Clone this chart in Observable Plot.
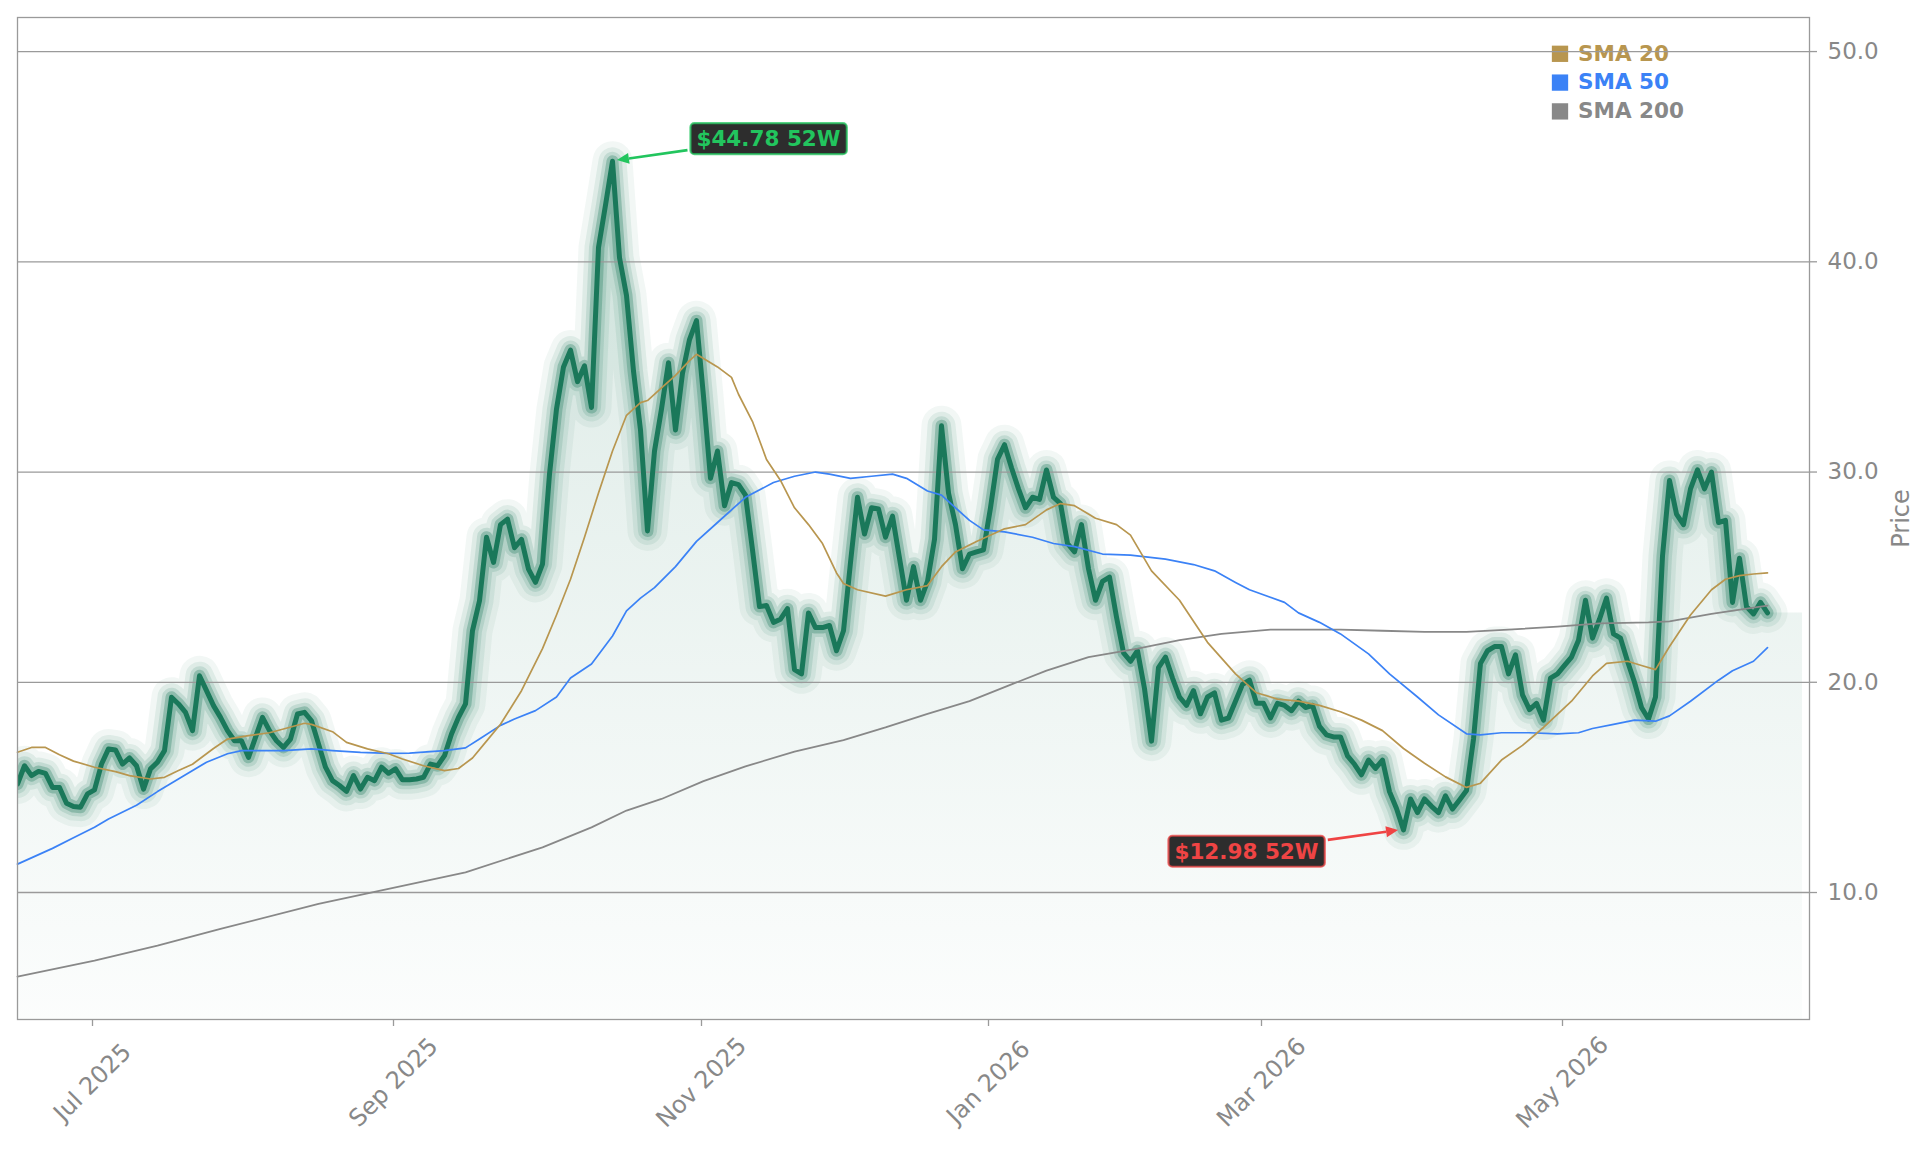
<!DOCTYPE html>
<html>
<head>
<meta charset="utf-8">
<script src="https://cdn.jsdelivr.net/npm/d3@7"></script>
<script src="https://cdn.jsdelivr.net/npm/@observablehq/plot@0.6"></script>
<style>
  html, body { margin: 0; padding: 0; background: #fff; }
  #chart { width: 1929px; height: 1153px; }
</style>
</head>
<body>
<div id="chart"></div>
<script>
// Daily closing prices, one value per trading session (index 0 = first session shown)
const closes = [
  15.16, 16.03, 15.56, 15.76, 15.67, 15.0, 15.0, 14.25, 14.09, 14.06,
  14.69, 14.88, 16.11, 16.83, 16.78, 16.11, 16.4, 16.03, 14.92, 15.88,
  16.2, 16.75, 19.29, 18.97, 18.57, 17.7, 20.31, 19.6, 18.89, 18.33,
  17.7, 17.22, 17.22, 16.43, 17.38, 18.33, 17.7, 17.22, 16.9, 17.3,
  18.49, 18.57, 18.17, 17.07, 15.96, 15.32, 15.09, 14.81, 15.56, 14.92,
  15.48, 15.32, 15.96, 15.67, 15.88, 15.36, 15.36, 15.4, 15.48, 16.11,
  16.03, 16.51, 17.54, 18.33, 18.97, 22.46, 23.88, 26.9, 25.7, 27.5,
  27.76, 26.4, 26.8, 25.38, 24.75, 25.62, 29.9, 33.0, 35.0, 35.8,
  34.3, 35.05, 33.07, 40.68, 42.7, 44.78, 40.2, 38.4, 34.8, 32.0,
  27.2, 31.0, 33.0, 35.2, 32.0, 34.7, 36.3, 37.2, 33.6, 29.7,
  31.0, 28.4, 29.5, 29.4, 28.9, 26.3, 23.6, 23.65, 22.85, 23.0,
  23.5, 20.6, 20.4, 23.3, 22.6, 22.6, 22.7, 21.5, 22.45, 25.7,
  28.8, 27.05, 28.3, 28.24, 26.9, 27.9, 25.9, 23.9, 25.5, 23.9,
  24.8, 26.8, 32.2, 29.0, 27.5, 25.4, 26.1, 26.2, 26.3, 28.3,
  30.6, 31.3, 30.2, 29.2, 28.3, 28.8, 28.7, 30.1, 28.8, 28.5,
  26.6, 26.2, 27.5, 25.4, 23.9, 24.8, 25.0, 23.1, 21.4, 21.0,
  21.5, 19.7, 17.2, 20.7, 21.2, 20.2, 19.3, 18.9, 19.6, 18.5,
  19.3, 19.5, 18.2, 18.3, 19.1, 19.9, 20.1, 19.0, 19.0, 18.3,
  19.0, 18.9, 18.65, 19.1, 18.8, 18.9, 17.9, 17.5, 17.4, 17.4,
  16.5, 16.1, 15.6, 16.3, 15.9, 16.3, 14.8, 14.0, 12.98, 14.45,
  13.8, 14.45, 14.1, 13.8, 14.6, 13.97, 14.4, 14.85, 17.3, 20.9,
  21.5, 21.7, 21.7, 20.4, 21.3, 19.4, 18.7, 19.0, 18.2, 20.2,
  20.4, 20.8, 21.2, 22.0, 23.9, 22.1, 23.0, 24.0, 22.3, 22.1,
  21.0, 20.0, 18.8, 18.25, 19.3, 26.0, 29.6, 28.0, 27.5, 29.2,
  30.1, 29.2, 30.0, 27.6, 27.7, 23.8, 25.9, 23.6, 23.25, 23.8,
  23.3
];

// Moving averages, listed at the sessions given in the matching index arrays
const sma20Idx = [0,2,4,6,8,11,14,16,19,21,23,25,28,30,33,36,38,41,42,45,47,50,53,55,58,61,63,65,67,69,72,75,77,79,81,83,85,87,89,90,92,94,96,97,98,100,102,103,105,107,109,111,113,115,117,118,120,124,127,130,132,134,137,141,144,147,149,151,154,157,159,162,166,170,174,177,180,183,186,189,192,195,198,201,204,207,209,212,215,218,222,225,227,230,232,234,236,239,242,244,246,248,250];
const sma20 = [16.67,16.9,16.9,16.55,16.25,15.96,15.75,15.56,15.4,15.48,15.8,16.1,16.85,17.3,17.46,17.6,17.78,18.05,18.0,17.65,17.14,16.83,16.6,16.35,16.03,15.8,15.9,16.4,17.2,18.0,19.6,21.6,23.2,24.9,26.9,29.0,31.0,32.7,33.3,33.4,34.0,34.6,35.3,35.6,35.4,35.0,34.5,33.7,32.4,30.6,29.6,28.3,27.5,26.6,25.2,24.7,24.4,24.1,24.4,24.6,25.5,26.2,26.7,27.3,27.5,28.2,28.5,28.4,27.8,27.5,27.0,25.3,23.9,21.9,20.4,19.5,19.2,19.1,18.9,18.6,18.2,17.7,16.85,16.15,15.5,15.0,15.2,16.3,17.0,17.85,19.1,20.3,20.9,21.0,20.8,20.6,21.7,23.2,24.4,24.9,25.07,25.15,25.2];

const sma50Idx = [0,5,8,11,13,17,20,24,27,30,32,36,38,42,45,49,53,56,61,64,66,69,71,74,77,79,82,85,87,89,91,94,97,100,104,108,111,114,116,119,122,125,127,130,132,134,136,138,141,145,148,151,155,159,164,168,171,174,176,181,183,186,189,193,196,200,203,207,209,212,216,220,223,225,228,231,234,236,239,243,245,248,250];
const sma50 = [11.35,12.1,12.6,13.1,13.5,14.15,14.8,15.6,16.2,16.6,16.75,16.75,16.75,16.83,16.75,16.67,16.62,16.63,16.75,16.88,17.3,17.95,18.25,18.65,19.3,20.2,20.87,22.2,23.4,24.0,24.5,25.5,26.7,27.6,28.8,29.5,29.8,30.0,29.9,29.7,29.8,29.9,29.7,29.1,28.9,28.3,27.7,27.25,27.15,26.9,26.6,26.45,26.1,26.05,25.86,25.6,25.3,24.75,24.4,23.8,23.3,22.85,22.3,21.35,20.4,19.3,18.45,17.55,17.5,17.6,17.6,17.55,17.6,17.8,18.0,18.2,18.15,18.4,19.1,20.1,20.55,21.0,21.65];

const sma200Idx = [0,11,20,29,43,52,64,75,82,87,92,98,104,111,118,124,130,136,142,147,153,160,166,172,179,189,195,201,207,213,220,226,233,236,242,248,250];
const sma200 = [6.0,6.76,7.47,8.27,9.46,10.1,10.96,12.15,13.1,13.9,14.45,15.3,16.0,16.7,17.25,17.85,18.5,19.1,19.9,20.55,21.2,21.6,22.0,22.3,22.5,22.5,22.45,22.4,22.4,22.5,22.65,22.8,22.85,22.9,23.25,23.55,23.65];

// Month axis: session index of each month's first trading day, and its label
const monthTickIdx = [11, 54, 98, 139, 178, 221];
const monthTickLabels = ["Jul 2025", "Sep 2025", "Nov 2025", "Jan 2026", "Mar 2026", "May 2026"];
const priceTicks = [10, 20, 30, 40, 50];

const seriesNames = ["SMA 20", "SMA 50", "SMA 200"];
const seriesColors = ["#b8964f", "#3b82f6", "#888888"];

// Scale extents and the session where the shaded band stops
const xDomain = [0, 256];
const yDomain = [3.96, 51.62];
const fillEndIdx = 255;

// ---- derived tables ----
const closeData = closes.map((v, i) => ({i, v}));
const fillData = [...closeData, {i: fillEndIdx, v: closes[closes.length - 1]}];
const zip = (idx, vals) => idx.slice(0, Math.min(idx.length, vals.length)).map((i, k) => ({i, v: vals[k]}));
const smaData = [zip(sma20Idx, sma20), zip(sma50Idx, sma50), zip(sma200Idx, sma200)];

const hiIdx = d3.maxIndex(closes), loIdx = d3.minIndex(closes);
const fmt = v => `$${v.toFixed(2)} 52W`;
const annotations = [
  {idx: hiIdx, v: closes[hiIdx], label: fmt(closes[hiIdx]), color: "#22c55e", dx: 156, dy: -22},
  {idx: loIdx, v: closes[loIdx], label: fmt(closes[loIdx]), color: "#ef4444", dx: -157, dy: 22}
];

const green = "#1a785a";
// glow rings around the price line: [stroke width, opacity]
const glowLayers = [[40, 0.06], [28, 0.09], [19, 0.14], [12, 0.3]];
const lineStyle = {x: "i", y: "v", strokeLinejoin: "round", strokeLinecap: "round"};

const plot = Plot.plot({
  width: 1929,
  height: 1153,
  marginLeft: 17,
  marginRight: 120,
  marginTop: 17,
  marginBottom: 134,
  style: {fontFamily: "'DejaVu Sans', sans-serif", background: "#fff", overflow: "visible"},
  x: {domain: xDomain},
  y: {domain: yDomain},
  marks: [
    // shaded band under the price
    Plot.areaY(fillData, {x: "i", y1: () => yDomain[0], y2: "v", fill: "url(#priceFill)", clip: true}),
    // soft glow around the price line
    ...glowLayers.map(([w, a]) => Plot.line(closeData, {...lineStyle, stroke: green, strokeWidth: w, strokeOpacity: a, clip: true})),
    // legend
    ...seriesNames.flatMap((name, k) => [
      Plot.dot([name], {frameAnchor: "top-right", dx: -249.5, dy: 36.3 + 28.8 * k, symbol: "square", r: 9.2, fill: seriesColors[k]}),
      Plot.text([name], {frameAnchor: "top-right", dx: -231.5, dy: 36.3 + 28.8 * k, text: d => d, textAnchor: "start", lineAnchor: "middle",
        fill: seriesColors[k], fontWeight: "bold", fontSize: 21.5})
    ]),
    // horizontal grid
    Plot.ruleY(priceTicks, {stroke: "#9a9a9a", strokeWidth: 1.3}),
    // price line
    Plot.line(closeData, {...lineStyle, stroke: green, strokeWidth: 5, clip: true}),
    // moving averages
    Plot.line(smaData[2], {...lineStyle, stroke: seriesColors[2], strokeWidth: 1.8}),
    Plot.line(smaData[1], {...lineStyle, stroke: seriesColors[1], strokeWidth: 1.7}),
    Plot.line(smaData[0], {...lineStyle, stroke: seriesColors[0], strokeWidth: 1.7}),
    Plot.frame({stroke: "#9a9a9a", strokeWidth: 1.3}),
    Plot.axisY(priceTicks, {anchor: "right", tickFormat: d3.format(".1f"), tickSize: 7, tickPadding: 11,
      fontSize: 23, fill: "#888", stroke: "#9a9a9a", strokeWidth: 1.3, label: null}),
    Plot.axisX(monthTickIdx, {anchor: "bottom", tickFormat: d => monthTickLabels[monthTickIdx.indexOf(d)],
      tickSize: 7, tickRotate: -45, textAnchor: "middle", tickPadding: 56, dx: -2,
      fontSize: 24, fill: "#888", stroke: "#9a9a9a", strokeWidth: 1.3, label: null}),
    // 52-week high / low labels
    ...annotations.map(a => Plot.text([a], {x: "idx", y: "v", text: "label", dx: a.dx, dy: a.dy,
      textAnchor: "middle", lineAnchor: "middle", fill: a.color, fontWeight: "bold", fontSize: 21.5})),
    Plot.text(["Price"], {frameAnchor: "right", dx: 92, text: d => d, rotate: -90, textAnchor: "middle", lineAnchor: "middle",
      fontSize: 24, fill: "#888"})
  ]
});

document.getElementById("chart").append(plot);

// vertical gradient used by the shaded band
const svg = d3.select(plot);
const defs = svg.insert("defs", ":first-child");
const grad = defs.append("linearGradient").attr("id", "priceFill")
  .attr("x1", 0).attr("y1", 0).attr("x2", 0).attr("y2", 1);
grad.append("stop").attr("offset", 0).attr("stop-color", green).attr("stop-opacity", 0.16);
grad.append("stop").attr("offset", 1).attr("stop-color", green).attr("stop-opacity", 0.015);

// boxes behind the high/low labels and arrows pointing at the extremes
const xs = plot.scale("x"), ys = plot.scale("y");
const arrowLayer = svg.append("g");
for (const a of annotations) {
  const node = svg.selectAll("text").filter(function () { return this.textContent === a.label; }).node();
  if (!node) continue;
  const bb = node.getBBox();
  const padX = 6, padY = 3;
  d3.select(node.parentNode).insert("rect", () => node)
    .attr("transform", node.getAttribute("transform"))
    .attr("x", bb.x - padX).attr("y", bb.y - padY)
    .attr("width", bb.width + 2 * padX).attr("height", bb.height + 2 * padY)
    .attr("rx", 4).attr("fill", "#2d2d2d")
    .attr("stroke", a.color).attr("stroke-opacity", 0.75).attr("stroke-width", 2.2);

  const m = node.getCTM();
  const bx0 = m.a * (bb.x - padX) + m.e, bx1 = m.a * (bb.x + bb.width + padX) + m.e;
  const by0 = m.d * (bb.y - padY) + m.f, by1 = m.d * (bb.y + bb.height + padY) + m.f;
  const cx = (bx0 + bx1) / 2, cy = (by0 + by1) / 2;
  const px = xs.apply(a.idx), py = ys.apply(a.v);
  let ux = px - cx, uy = py - cy;
  const len = Math.hypot(ux, uy); ux /= len; uy /= len;
  const t = Math.min((bx1 - bx0) / 2 / Math.abs(ux), (by1 - by0) / 2 / Math.abs(uy)) + 3;
  const sx = cx + ux * t, sy = cy + uy * t;
  const ex = px - ux * 5, ey = py - uy * 5;
  const headL = 12, headW = 5.5;
  const hx = ex - ux * headL, hy = ey - uy * headL;
  arrowLayer.append("line")
    .attr("x1", sx).attr("y1", sy).attr("x2", hx).attr("y2", hy)
    .attr("stroke", a.color).attr("stroke-width", 2.6);
  arrowLayer.append("path")
    .attr("d", `M${ex},${ey}L${hx - uy * headW},${hy + ux * headW}L${hx + uy * headW},${hy - ux * headW}Z`)
    .attr("fill", a.color);
}
</script>
</body>
</html>
